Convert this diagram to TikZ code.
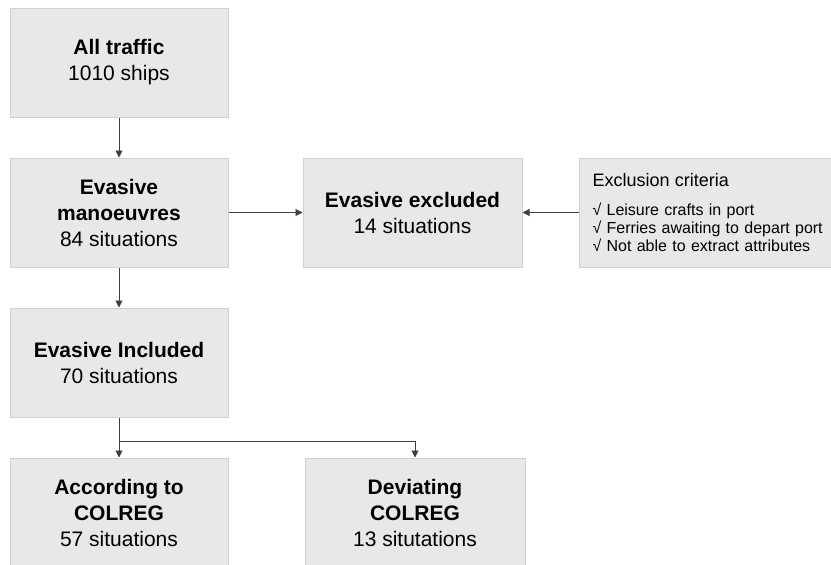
\documentclass[tikz,border=0pt]{standalone}
\usepackage{fontspec}
\setmainfont{Liberation Sans}
\usetikzlibrary{arrows.meta}
\definecolor{boxfill}{HTML}{E8E8E8}
\definecolor{boxline}{HTML}{D0D0D0}
\definecolor{arrowc}{HTML}{404040}
\tikzset{
  box/.style={draw=boxline, line width=1pt, fill=boxfill, minimum width=218pt,
    minimum height=109pt, align=center, inner sep=0pt,
    font=\fontsize{21}{26}\selectfont},
  conn/.style={draw=arrowc, line width=0.9pt, -{Triangle[length=7pt,width=7pt]}}
}
\begin{document}
\begin{tikzpicture}[x=1pt,y=-1pt]
\useasboundingbox (0,0) rectangle (831,565);
\clip (0,0) rectangle (831,565);
\node[box] (all) at (119,62.5) {\textbf{All traffic}\\1010 ships};
\node[box] (evm) at (119,212.5) {\textbf{Evasive}\\\textbf{manoeuvres}\\84 situations};
\node[box, minimum width=219pt] (exc) at (412.5,212.5) {\textbf{Evasive excluded}\\14 situations};
\node[box] (inc) at (119,362.5) {\textbf{Evasive Included}\\70 situations};
\node[box, minimum height=110pt] (acc) at (119,513) {\textbf{According to}\\\textbf{COLREG}\\57 situations};
\node[box, minimum width=220pt, minimum height=110pt] (dev) at (415,513) {\textbf{Deviating}\\\textbf{COLREG}\\13 situtations};
\node[box, anchor=north west, align=left, text width=234pt, inner xsep=13pt,
  font=\fontsize{16}{18}\selectfont] (crit) at (579,158)
  {{\fontsize{18}{18}\selectfont Exclusion criteria}\\[11pt]
   √ Leisure crafts in port\\
   √ Ferries awaiting to depart port\\
   √ Not able to extract attributes};
\coordinate (j) at (119,441);
\draw[conn] (all) -- (evm);
\draw[conn] (evm) -- (exc);
\draw[conn] (crit.west |- exc) -- (exc);
\draw[conn] (evm) -- (inc);
\draw[conn] (inc) -- (acc);
\draw[conn] (j) -| (dev.north);
\end{tikzpicture}
\end{document}
